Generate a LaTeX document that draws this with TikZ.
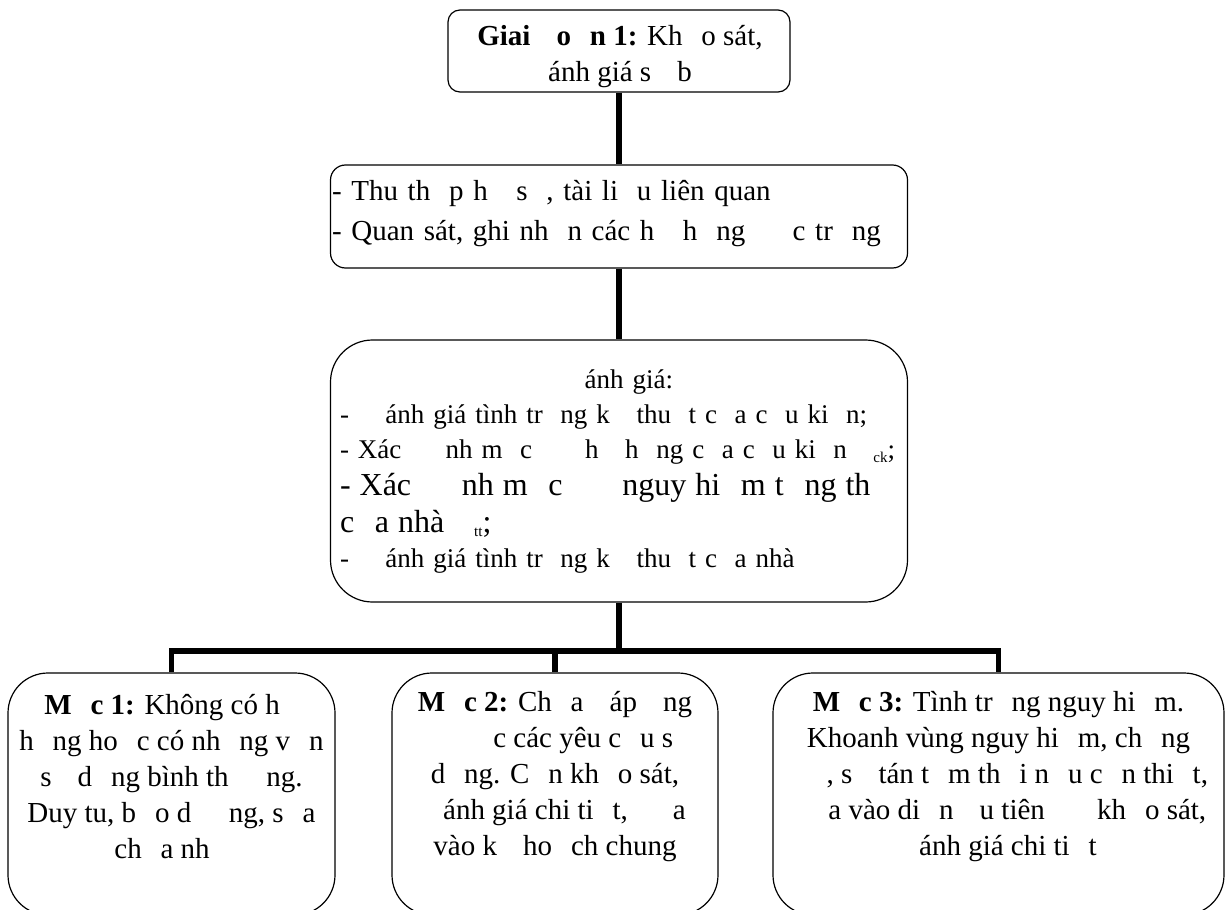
\documentclass[tikz,border=0pt]{standalone}
\usepackage{fontspec}
\setmainfont{Liberation Serif}
\newcommand{\gap}{\hspace*{0.65em}}
\newcommand{\lowsub}[1]{\raisebox{-4pt}{\fontsize{15}{15}\selectfont #1}}
\tikzset{
  box/.style={draw, line width=1.2pt, rounded corners=#1, inner sep=0pt},
  box/.default=40pt,
  conn/.style={line width=5.5pt},
  txt/.style={inner sep=0pt, align=center, font=\fontsize{29}{36}\selectfont},
}
\begin{document}
\begin{tikzpicture}[x=1pt,y=-1pt]
\useasboundingbox (0,0) rectangle (1227,910);
\clip (0,0) rectangle (1227,910);

% khung
\node[box=12pt, minimum width=342, minimum height=82] (stage) at (619,51) {};
\node[box=15pt, minimum width=577, minimum height=103] (collect) at (619,216.5) {};
\node[box=42pt, minimum width=577, minimum height=262] (assess) at (619,471) {};
\node[box, minimum width=327, minimum height=242] (lvlA) at (171.5,794) {};
\node[box, minimum width=326, minimum height=242] (lvlB) at (555,794) {};
\node[box, minimum width=451, minimum height=242] (lvlC) at (998.5,794) {};

% noi dung
\node[txt] (stageT) at (620,57)
  {\textbf{Giai \gap o\gap n 1:} Kh\gap o sát,\\\gap ánh giá s\gap{} b\gap};
\node[txt, text width=570, align=left, font=\fontsize{29}{40}\selectfont] (collectT) at (617,214)
  {- Thu th\gap p h\gap{} s\gap , tài li\gap u liên quan\\
   - Quan sát, ghi nh\gap n các h\gap{} h\gap ng \gap\gap c tr\gap ng};
\node[txt, text width=560, align=left, font=\fontsize{27}{35}\selectfont] (assessT) at (620,472)
  {{\centering\gap ánh giá:\par}
   -\hspace{0.7em}\gap ánh giá tình tr\gap ng k\gap{} thu\gap t c\gap a c\gap u ki\gap n;\par
   - Xác \gap\gap nh m\gap c \gap\gap{} h\gap{} h\gap ng c\gap a c\gap u ki\gap n \gap\lowsub{ck};\par
   {\fontsize{32}{37}\selectfont - Xác \gap\gap nh m\gap c \gap\gap{} nguy hi\gap m t\gap ng th\gap\\
   c\gap a nhà \gap\lowsub{tt};\par}
   -\hspace{0.7em}\gap ánh giá tình tr\gap ng k\gap{} thu\gap t c\gap a nhà\par};
\node[txt] (lvlAT) at ([yshift=17pt]lvlA.center)
  {\textbf{M\gap c 1:} Không có h\gap\\
   h\gap ng ho\gap c có nh\gap ng v\gap n\\
   s\gap{} d\gap ng bình th\gap\gap ng.\\
   Duy tu, b\gap o d\gap\gap ng, s\gap a\\
   ch\gap a nh\gap};
\node[txt] (lvlBT) at ([yshift=17pt]lvlB.center)
  {\textbf{M\gap c 2:} Ch\gap a \gap áp \gap ng\\
   \gap\gap\gap c các yêu c\gap u s\gap\\
   d\gap ng. C\gap n kh\gap o sát,\\
   \gap ánh giá chi ti\gap t, \gap\gap a\\
   vào k\gap{} ho\gap ch chung};
\node[txt] (lvlCT) at ([yshift=17pt]lvlC.center)
  {\textbf{M\gap c 3:} Tình tr\gap ng nguy hi\gap m.\\
   Khoanh vùng nguy hi\gap m, ch\gap ng\\
   \gap\gap, s\gap{} tán t\gap m th\gap i n\gap u c\gap n thi\gap t,\\
   \gap\gap a vào di\gap n \gap u tiên \gap\gap{} kh\gap o sát,\\
   \gap ánh giá chi ti\gap t};

% duong noi
\coordinate (bar) at (619,651);
\draw[conn] (stage.south) -- (collect.north);
\draw[conn] (collect.south) -- (assess.north);
\draw[conn] (assess.south) -- (bar);
\draw[conn] (lvlA.north) |- (bar) -| (lvlC.north);
\draw[conn] (lvlB.north) -- (lvlB.north |- bar);
\end{tikzpicture}
\end{document}
